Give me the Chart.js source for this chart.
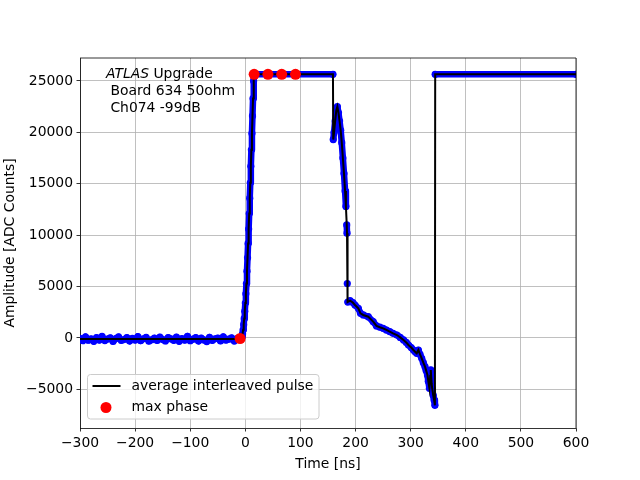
<!DOCTYPE html>
<html>
<head>
<meta charset="utf-8">
<script src="https://cdn.jsdelivr.net/npm/chart.js@4.4.1/dist/chart.umd.min.js"></script>
<style>
  html, body { margin: 0; padding: 0; background: #fff; }
  canvas { display: block; }
</style>
</head>
<body>
<canvas id="chart" width="640" height="480"></canvas>
<script>
// pedestal samples before the pulse (blue dots only)
const baselineTime = [-300, -295, -290, -285, -280, -275, -270, -265, -260, -255,
  -250, -245, -240, -235, -230, -225, -220, -215, -210, -205,
  -200, -195, -190, -185, -180, -175, -170, -165, -160, -155,
  -150, -145, -140, -135, -130, -125, -120, -115, -110, -105,
  -100, -95, -90, -85, -80, -75, -70, -65, -60, -55,
  -50, -45, -40, -35, -30, -25, -20, -15];
const baselineAmp = [-40, -260, 120, -220, -80, -320, 30, -200, 160, -250,
  -100, 20, -340, -60, 110, -240, -150, 40, -300, -30,
  -200, 140, -270, -80, 60, -310, -170, -10, -240, 90,
  -150, -290, 50, -90, -230, 80, -320, -50, -210, 170,
  -260, -110, 40, -300, -20, -190, -350, 70, -240, -80,
  -10, -280, 120, -200, -110, 10, -290, -60];

// average interleaved pulse (black line, blue samples follow it after t = -10)
const pulseTime = [-300, -10, -8, -6, -5, -4, -3, -2, -1, 0, 1, 2, 3, 4, 5, 6, 7, 8, 9, 10,
  11, 12, 13, 14, 15, 15.5, 159, 159.5, 161, 163, 165, 167, 169, 171, 173, 175,
  177, 179, 181, 182.5, 184, 184.5, 185, 186, 190, 195, 199, 205, 209, 214,
  223, 232, 238, 244, 250, 256, 262, 268, 275, 281, 287, 292, 296, 301, 305,
  308, 311, 314, 317, 320, 323, 326, 328, 330.5, 332, 334, 335.5, 336.5, 338, 339,
  341, 342.5, 344, 344.5, 600];
const pulseAmp = [-100, -100, -50, 150, 400, 800, 1300, 1900, 2600, 3400, 4300, 5300, 6500, 7800, 9200, 10600, 12100, 13600, 15100, 16700,
  18300, 19900, 21600, 23300, 25000, 25650, 25650, 19300, 20000, 21100, 22100, 22500, 21900, 21100, 20200, 19000,
  17500, 16000, 14300, 12800, 11000, 10200, 5300, 3500, 3630, 3450, 3210, 2890, 2400, 2240,
  2070, 1590, 1170, 1050, 940, 780, 620, 450, 290, 60, -190, -430, -680, -930, -1170,
  -1330, -1490, -1170, -1600, -1980, -2400, -2790, -3150, -3600, -4200, -4890, -3700, -3110, -4400, -4890,
  -5600, -6030, -6550, 25650, 25650];

// max phase markers
const maxPhaseTime = [-9.5, 16, 41, 66, 91];
const maxPhaseAmp = [-50, 25650, 25650, 25650, 25650];

const xTicks = [-300, -200, -100, 0, 100, 200, 300, 400, 500, 600];
const yTicks = [-5000, 0, 5000, 10000, 15000, 20000, 25000];

const labelLines = ['Board 634 50ohm', 'Ch074 -99dB'];

const FONT = "'DejaVu Sans', sans-serif";
const FS = 13.9;

const toXY = (xs, ys) => xs.map((x, i) => ({ x, y: ys[i] }));
const minus = v => (v < 0 ? '\u2212' + Math.abs(v) : String(v));

const pulsePoints = toXY(pulseTime, pulseAmp);
const samplePoints = toXY(baselineTime, baselineAmp).concat(pulsePoints.filter(p => p.x >= -10));

// frame, text box and legend drawn like matplotlib
const decorPlugin = {
  id: 'decor',
  afterDatasetsDraw(chart) {
    const { ctx, chartArea: a } = chart;
    ctx.save();
    ctx.strokeStyle = '#000';
    ctx.lineWidth = 0.8;
    ctx.beginPath();
    ctx.moveTo(a.left, a.top);
    ctx.lineTo(a.right, a.top);
    ctx.lineTo(a.right, a.bottom);
    ctx.stroke();
    ctx.restore();
  },
  afterDraw(chart) {
    const { ctx, chartArea: a } = chart;
    ctx.save();
    ctx.fillStyle = '#000';
    ctx.textBaseline = 'middle';
    ctx.textAlign = 'left';

    // ATLAS Upgrade label
    const tx = a.left + 26, ty = a.top + 16;
    ctx.font = `italic ${FS}px ${FONT}`;
    ctx.fillText('ATLAS', tx, ty);
    const w = ctx.measureText('ATLAS').width;
    ctx.font = `${FS}px ${FONT}`;
    ctx.fillText(' Upgrade', tx + w, ty);
    labelLines.forEach((s, i) => ctx.fillText(' ' + s, tx, ty + 17 * (i + 1)));

    // legend
    const lx = a.left + 7.5, ly = a.bottom - 53.5, lw = 231.5, lh = 44.5;
    ctx.beginPath();
    ctx.roundRect(lx, ly, lw, lh, 3);
    ctx.fillStyle = 'rgba(255,255,255,0.8)';
    ctx.fill();
    ctx.strokeStyle = '#cccccc';
    ctx.lineWidth = 1;
    ctx.stroke();

    ctx.strokeStyle = '#000';
    ctx.lineWidth = 2;
    ctx.beginPath();
    ctx.moveTo(lx + 5, ly + 11.5);
    ctx.lineTo(lx + 33, ly + 11.5);
    ctx.stroke();

    ctx.fillStyle = '#ff0000';
    ctx.beginPath();
    ctx.arc(lx + 18.5, ly + 33, 5.5, 0, Math.PI * 2);
    ctx.fill();

    ctx.fillStyle = '#000';
    ctx.font = `${FS}px ${FONT}`;
    ctx.fillText('average interleaved pulse', lx + 44, ly + 11.5);
    ctx.fillText('max phase', lx + 44, ly + 33);
    ctx.restore();
  }
};

Chart.defaults.color = '#000';
Chart.defaults.font.family = FONT;
Chart.defaults.font.size = FS;

new Chart(document.getElementById('chart').getContext('2d'), {
  type: 'scatter',
  data: {
    datasets: [
      {
        label: 'max phase',
        data: toXY(maxPhaseTime, maxPhaseAmp),
        showLine: false,
        pointRadius: 5.5,
        pointBackgroundColor: '#ff0000',
        pointBorderWidth: 0,
        order: 0
      },
      {
        label: 'average interleaved pulse',
        data: pulsePoints,
        showLine: true,
        borderColor: '#000',
        borderWidth: 2,
        pointRadius: 0,
        tension: 0,
        order: 1
      },
      {
        label: 'samples',
        data: samplePoints,
        showLine: true,
        borderColor: '#0000ff',
        borderWidth: 6.5,
        borderJoinStyle: 'round',
        borderCapStyle: 'round',
        pointRadius: 3.6,
        pointBackgroundColor: '#0000ff',
        pointBorderWidth: 0,
        segment: {
          borderColor: c => Math.abs(c.p1.parsed.y - c.p0.parsed.y) > 1750 ? 'rgba(0,0,0,0)' : '#0000ff'
        },
        order: 2
      }
    ]
  },
  options: {
    responsive: false,
    animation: false,
    events: [],
    clip: 0,
    layout: { padding: { left: 0, top: 58, right: 64, bottom: 0 } },
    plugins: { legend: { display: false }, tooltip: { enabled: false } },
    scales: {
      x: {
        type: 'linear',
        min: -300,
        max: 600,
        afterBuildTicks: s => { s.ticks = xTicks.map(v => ({ value: v })); },
        afterFit: s => { s.height = 52; },
        ticks: { callback: v => minus(v), padding: 4, maxRotation: 0, autoSkip: false },
        grid: { color: '#b0b0b0', lineWidth: 0.8, tickColor: '#000', tickWidth: 0.8, tickLength: 3.5 },
        border: { display: true, color: '#000', width: 0.8 },
        title: { display: true, text: 'Time [ns]', padding: { top: 0, bottom: 7 } }
      },
      y: {
        type: 'linear',
        min: -8755,
        max: 27237,
        afterBuildTicks: s => { s.ticks = yTicks.map(v => ({ value: v })); },
        afterFit: s => { s.width = 80; },
        ticks: { callback: v => minus(v), padding: 3.5, autoSkip: false },
        grid: { color: '#b0b0b0', lineWidth: 0.8, tickColor: '#000', tickWidth: 0.8, tickLength: 3.5 },
        border: { display: true, color: '#000', width: 0.8 },
        title: { display: true, text: 'Amplitude [ADC Counts]', padding: { top: 2, bottom: 0 } }
      }
    }
  },
  plugins: [decorPlugin]
});
</script>
</body>
</html>
